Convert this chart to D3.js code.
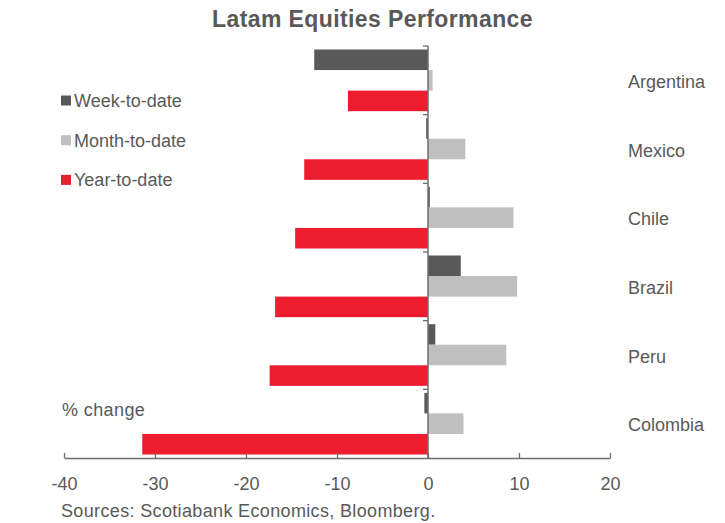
<!DOCTYPE html>
<html>
<head>
<meta charset="utf-8">
<script src="https://cdn.jsdelivr.net/npm/d3@7"></script>
<style>
  html, body { margin: 0; padding: 0; background: #fff; }
  svg text { font-family: "Liberation Sans", Arial, sans-serif; fill: #595959; }
</style>
</head>
<body>
<svg id="chart" width="725" height="523"></svg>
<script>
const categories = ["Argentina", "Mexico", "Chile", "Brazil", "Peru", "Colombia"];
const seriesNames = ["Week-to-date", "Month-to-date", "Year-to-date"];
const weekToDate  = [-12.5, -0.2, 0.2, 3.6, 0.8, -0.4];
const monthToDate = [0.5, 4.1, 9.4, 9.8, 8.6, 3.9];
const yearToDate  = [-8.8, -13.6, -14.6, -16.8, -17.4, -31.4];
const xTicks = [-40, -30, -20, -10, 0, 10, 20];
const colors = ["#595959", "#bfbfbf", "#ed1c2e"];

const seriesValues = [weekToDate, monthToDate, yearToDate];
const rows = categories.map((c, i) => ({
  category: c,
  values: seriesNames.map((s, j) => ({ series: s, value: seriesValues[j][i], idx: j }))
}));

const svg = d3.select("#chart");
const plotTop = 46, plotBottom = 458, plotLeft = 64, plotRight = 610;

const x = d3.scaleLinear().domain([-40, 20]).range([plotLeft, plotRight]);
const y = d3.scaleBand().domain(categories).range([plotTop, plotBottom]).padding(0);
const ySub = d3.scaleBand().domain(seriesNames).range([0, y.bandwidth()]).paddingInner(0).paddingOuter(0.17);

// Title
svg.append("text")
  .attr("x", 372.5).attr("y", 27)
  .attr("text-anchor", "middle")
  .style("font-size", "23px").style("font-weight", "bold")
  .style("letter-spacing", "0.4px")
  .text("Latam Equities Performance");

// Bars
const g = svg.append("g");
const groups = g.selectAll("g.grp").data(rows).join("g")
  .attr("class", "grp")
  .attr("transform", d => `translate(0,${y(d.category)})`);
groups.selectAll("rect").data(d => d.values).join("rect")
  .attr("x", d => x(Math.min(0, d.value)))
  .attr("width", d => Math.abs(x(d.value) - x(0)))
  .attr("y", d => ySub(d.series))
  .attr("height", ySub.bandwidth())
  .attr("fill", d => colors[d.idx]);

// X axis (ticks pointing up)
const xAxis = svg.append("g")
  .attr("transform", `translate(0,${plotBottom})`)
  .call(d3.axisBottom(x).tickValues(xTicks).tickSize(-5).tickSizeOuter(0).tickFormat(d => String(d)));
xAxis.select(".domain").attr("stroke", "#6e6e6e").attr("stroke-width", 1.5);
xAxis.selectAll(".tick line").attr("stroke", "#6e6e6e").attr("stroke-width", 1.3);
xAxis.selectAll(".tick text")
  .attr("fill", "#595959")
  .style("font-size", "18px")
  .attr("y", 32).attr("dy", 0);

// Y axis at zero with boundary ticks pointing left
const yAxisG = svg.append("g");
yAxisG.append("line")
  .attr("x1", x(0)).attr("x2", x(0))
  .attr("y1", plotTop).attr("y2", plotBottom)
  .attr("stroke", "#6e6e6e").attr("stroke-width", 1.5);
const boundaries = categories.map(c => y(c));
yAxisG.selectAll("line.bt").data(boundaries).join("line")
  .attr("class", "bt")
  .attr("x1", x(0) - 5).attr("x2", x(0))
  .attr("y1", d => d).attr("y2", d => d)
  .attr("stroke", "#6e6e6e").attr("stroke-width", 1.3);

// Category labels on the right
svg.append("g").selectAll("text").data(categories).join("text")
  .attr("x", 628)
  .attr("y", d => y(d) + y.bandwidth() / 2 + 7.5)
  .style("font-size", "18px")
  .text(d => d);

// Legend
const legend = svg.append("g");
seriesNames.forEach((s, i) => {
  const ly = 100.5 + i * 39.7;
  legend.append("rect")
    .attr("x", 61).attr("y", ly - 5)
    .attr("width", 10).attr("height", 10)
    .attr("fill", colors[i]);
  legend.append("text")
    .attr("x", 74).attr("y", ly + 6.5)
    .style("font-size", "18px")
    .text(s);
});

// % change
svg.append("text")
  .attr("x", 62).attr("y", 416)
  .style("font-size", "18px")
  .style("letter-spacing", "0.4px")
  .text("% change");

// Sources
svg.append("text")
  .attr("x", 61).attr("y", 517)
  .style("font-size", "18px")
  .style("letter-spacing", "0.35px")
  .text("Sources: Scotiabank Economics, Bloomberg.");
</script>
</body>
</html>
